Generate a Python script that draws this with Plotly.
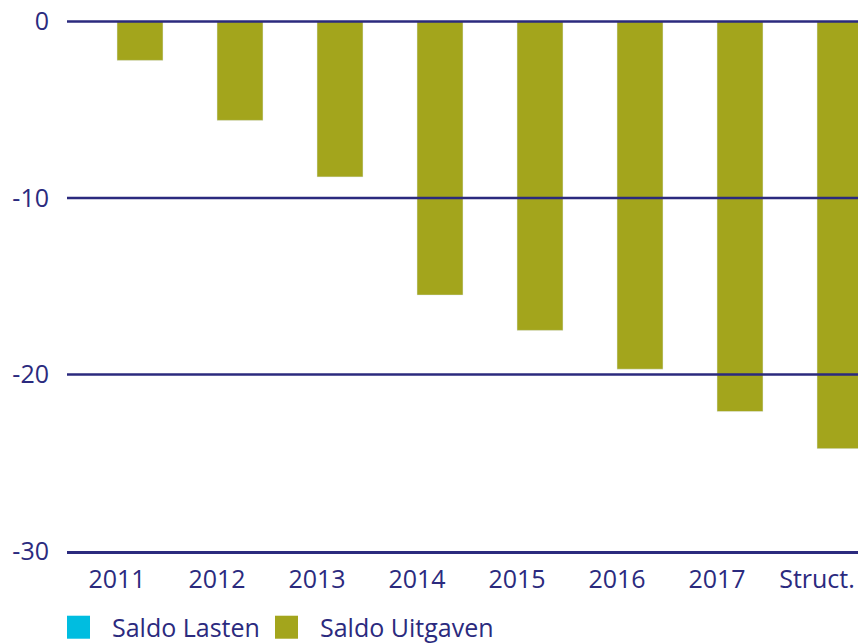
import plotly.graph_objects as go

categories = ["2011", "2012", "2013", "2014", "2015", "2016", "2017", "Struct."]
saldo_lasten = [0, 0, 0, 0, 0, 0, 0, 0]
saldo_uitgaven = [-2.2, -5.6, -8.8, -15.5, -17.5, -19.7, -22.1, -24.2]
y_ticks = [0, -10, -20, -30]
legend_names = ["Saldo Lasten", "Saldo Uitgaven"]

NAVY = "#2B2A7E"
OLIVE = "#A3A51C"
CYAN = "#00BDE0"
FONT = "Open Sans"
FS = 25

W, H = 858, 644
Y_TOP = 0.6
PXU = 17.64
ML, MR = 67, 0
MT = 22 - Y_TOP * PXU
MB = H - 551.3
PW, PH = W - ML - MR, H - MT - MB

def px_x(x):
    return (x - ML) / PW

def px_y(y):
    return (H - MB - y) / PH

fig = go.Figure()
fig.add_trace(go.Bar(x=categories, y=saldo_lasten, name=legend_names[0],
                     marker_color=CYAN, showlegend=False))
fig.add_trace(go.Bar(x=categories, y=saldo_uitgaven, name=legend_names[1],
                     marker_color=OLIVE, showlegend=False))

shapes = []
for v in y_ticks[:-1]:
    shapes.append(dict(type="line", xref="paper", yref="y", x0=0, x1=1, y0=v, y1=v,
                       line=dict(color=NAVY, width=2.5), layer="above"))

# legend
annotations = []
leg_items = [(67, 110, CYAN, legend_names[0]), (275, 318, OLIVE, legend_names[1])]
for sx, tx, col, name in leg_items:
    shapes.append(dict(type="rect", xref="paper", yref="paper",
                       x0=px_x(sx), x1=px_x(sx + 23), y0=px_y(639), y1=px_y(616),
                       fillcolor=col, line=dict(width=0)))
    annotations.append(dict(xref="paper", yref="paper", x=px_x(tx), y=px_y(627),
                            xanchor="left", yanchor="middle", text=name, showarrow=False,
                            font=dict(family=FONT, size=FS, color=NAVY)))

fig.update_layout(
    width=W, height=H,
    margin=dict(l=ML, r=MR, t=MT, b=MB, pad=0),
    paper_bgcolor="white", plot_bgcolor="white",
    barmode="group", bargap=0.08, bargroupgap=0,
    showlegend=False,
    shapes=shapes, annotations=annotations,
    font=dict(family=FONT, size=FS, color=NAVY),
    xaxis=dict(type="category", range=[-0.5, 7.41], showgrid=False, zeroline=False,
               showline=True, linecolor=NAVY, linewidth=2.5, layer="above traces",
               ticks="", ticklabelstandoff=4,
               tickfont=dict(family=FONT, size=FS, color=NAVY)),
    yaxis=dict(range=[-30, Y_TOP], tickvals=y_ticks, ticktext=[str(v) for v in y_ticks],
               showgrid=False, zeroline=False, showline=False, ticks="",
               ticklabelstandoff=17,
               tickfont=dict(family=FONT, size=FS, color=NAVY)),
)

fig.write_html("out.html", config={"displayModeBar": False},
               post_script="document.body.style.margin='0';document.body.style.overflow='hidden';")
